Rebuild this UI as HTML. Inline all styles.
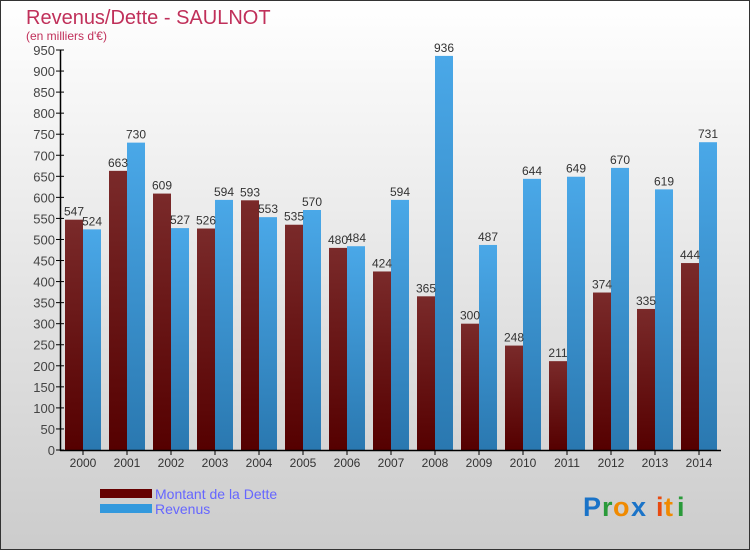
<!DOCTYPE html>
<html><head><meta charset="utf-8"><style>
body{margin:0;width:750px;height:550px;overflow:hidden;}
svg{display:block;font-family:"Liberation Sans",sans-serif;}
</style></head><body>
<svg width="750" height="550">
<defs>
<linearGradient id="bg" x1="0" y1="0" x2="0" y2="1"><stop offset="0" stop-color="#ffffff"/><stop offset="1" stop-color="#cccccc"/></linearGradient>
<linearGradient id="gd" x1="0" y1="0" x2="0" y2="1"><stop offset="0" stop-color="#7a2a2a"/><stop offset="1" stop-color="#550000"/></linearGradient>
<linearGradient id="gr" x1="0" y1="0" x2="0" y2="1"><stop offset="0" stop-color="#4aa8e8"/><stop offset="1" stop-color="#2a78b0"/></linearGradient>
</defs>
<rect x="0.5" y="0.5" width="749" height="549" fill="url(#bg)" stroke="#333"/>
<text x="26" y="24" font-size="20" fill="#c0305a">Revenus/Dette - SAULNOT</text>
<text x="26" y="40" font-size="12" fill="#c0305a">(en milliers d'€)</text>
<g id="plot"></g>
<rect x="100" y="489" width="52" height="9" fill="#660000"/>
<rect x="100" y="504" width="52" height="9" fill="#3399dd"/>
<text x="155" y="499" font-size="14" fill="#6666ff">Montant de la Dette</text>
<text x="155" y="514" font-size="14" fill="#6666ff">Revenus</text>
<g font-size="27" font-weight="bold" font-family="'Liberation Sans',sans-serif">
<text x="583" y="516" fill="#1a73c8">P</text><text x="602" y="516" fill="#2a9a3a">r</text><text x="613" y="516" fill="#f08a00">o</text><text x="631" y="516" fill="#1a73c8">x</text><text x="656" y="516" fill="#e84a10">i</text><text x="664" y="516" fill="#f08a00">t</text><text x="677" y="516" fill="#2a9a3a">i</text>
</g>
</svg>
<script>
const years=["2000","2001","2002","2003","2004","2005","2006","2007","2008","2009","2010","2011","2012","2013","2014"];
const dette=[547,663,609,526,593,535,480,424,365,300,248,211,374,335,444];
const revenus=[524,730,527,594,553,570,484,594,936,487,644,649,670,619,731];
const yTicks=[0,50,100,150,200,250,300,350,400,450,500,550,600,650,700,750,800,850,900,950];
const NS="http://www.w3.org/2000/svg";
const g=document.getElementById("plot");
const x0=61,gw=44,y0=450,yMax=950,ph=400;
const y=v=>y0-v/yMax*ph;
const gx=i=>x0+i*gw;
function mk(t,a){const e=document.createElementNS(NS,t);for(const k in a)e.setAttribute(k,a[k]);g.appendChild(e);return e;}
yTicks.forEach(v=>{
 const l=mk("line",{x1:56,x2:64,y1:y(v),y2:y(v),stroke:"#000"});
 
 
 const t=mk("text",{x:55,y:y(v)+5,"text-anchor":"end","font-size":13,fill:"#444"});t.textContent=v;
 
 
});
years.forEach((yr,i)=>{
 const bx=gx(i)+4;
 const b1=mk("rect",{x:bx,y:y(dette[i]),width:18,height:y0-y(dette[i]),fill:"url(#gd)"});
 
 
 const b2=mk("rect",{x:bx+18,y:y(revenus[i]),width:18,height:y0-y(revenus[i]),fill:"url(#gr)"});
 
 
 const t1=mk("text",{x:bx+9,y:y(dette[i])-4,"text-anchor":"middle","font-size":12,fill:"#333"});t1.textContent=dette[i];
 
 
 const t2=mk("text",{x:bx+27,y:y(revenus[i])-4,"text-anchor":"middle","font-size":12,fill:"#333"});t2.textContent=revenus[i];
 
 
 const tk=mk("line",{x1:gx(i)+22,x2:gx(i)+22,y1:450,y2:455,stroke:"#000"});
 
 
 const xl=mk("text",{x:gx(i)+22,y:467,"text-anchor":"middle","font-size":12,fill:"#333"});xl.textContent=yr;
 
 
});
const ya=mk("line",{x1:60.5,x2:60.5,y1:50,y2:451,stroke:"#000","stroke-width":1.5});


const xa=mk("line",{x1:60,x2:721,y1:450.5,y2:450.5,stroke:"#000","stroke-width":1.5});


</script>
</body></html>
